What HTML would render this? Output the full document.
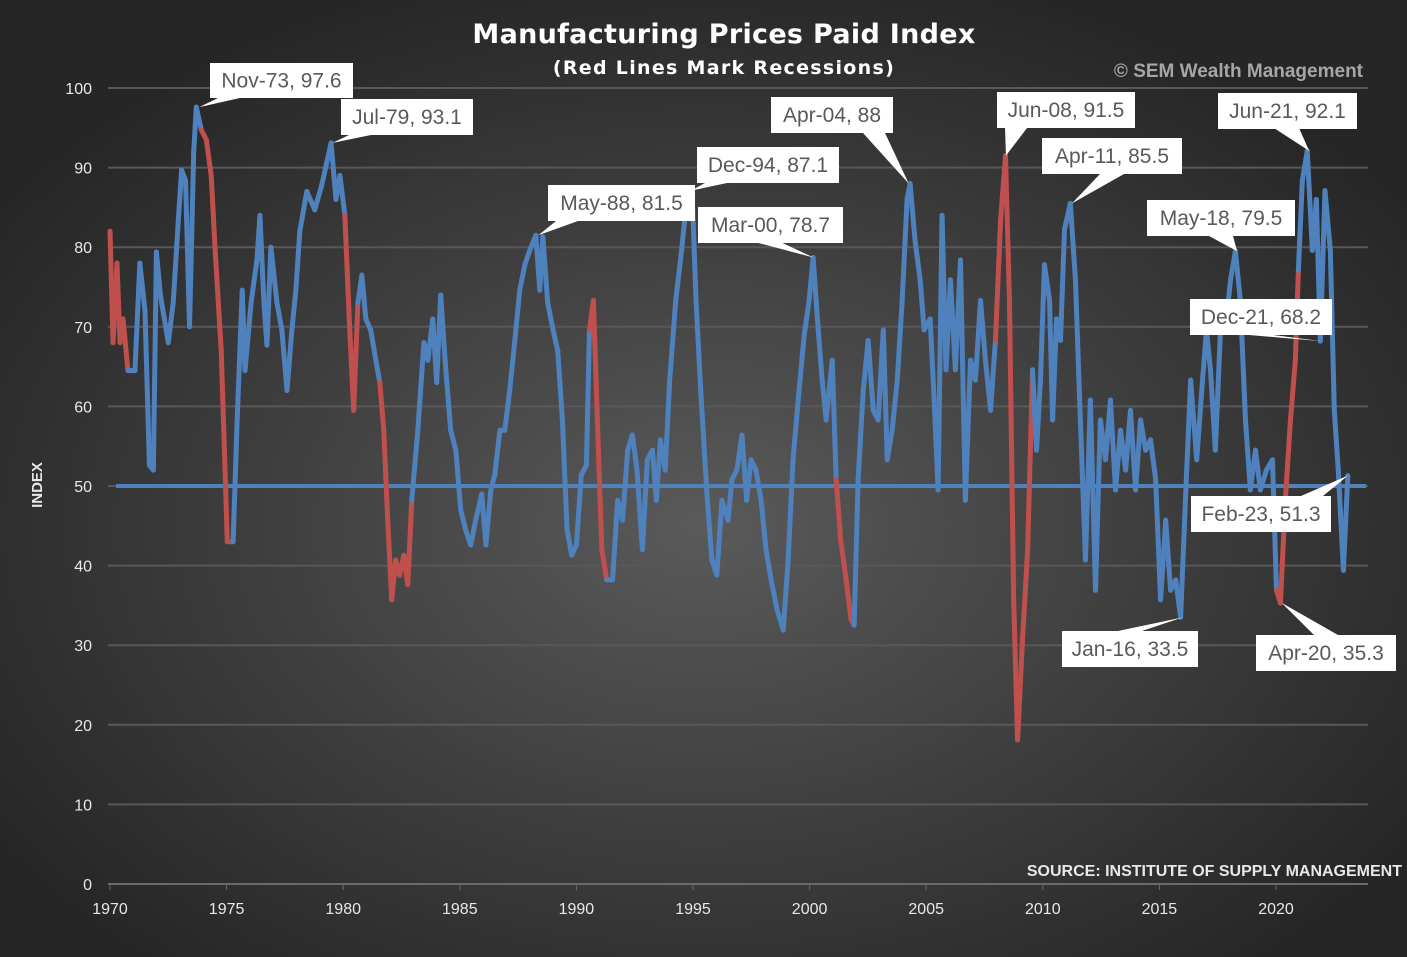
<!DOCTYPE html>
<html><head><meta charset="utf-8">
<style>
html,body{margin:0;padding:0;}
body{width:1407px;height:957px;overflow:hidden;background:radial-gradient(ellipse 60% 60% at 50% 55%,#5a5a5a 0%,#3d3d3d 55%,#262626 100%);font-family:"Liberation Sans","DejaVu Sans",sans-serif;}
svg{position:absolute;left:0;top:0;}
</style></head>
<body>
<svg id="chart" width="1407" height="957"></svg>
<script>
const yearsX = [1970.0,1970.13,1970.3,1970.43,1970.56,1970.77,1971.07,1971.28,1971.5,1971.69,1971.86,1971.99,1972.16,1972.33,1972.5,1972.71,1972.93,1973.07,1973.24,1973.41,1973.59,1973.7,1973.92,1974.13,1974.34,1974.51,1974.77,1975.03,1975.28,1975.45,1975.67,1975.79,1976.05,1976.3,1976.43,1976.6,1976.73,1976.9,1977.16,1977.37,1977.59,1977.8,1977.97,1978.14,1978.44,1978.78,1979.08,1979.48,1979.69,1979.86,1980.07,1980.28,1980.45,1980.63,1980.8,1980.97,1981.18,1981.4,1981.57,1981.74,1981.91,1982.08,1982.25,1982.42,1982.6,1982.77,1982.94,1983.2,1983.46,1983.63,1983.84,1984.01,1984.18,1984.4,1984.61,1984.83,1985.04,1985.25,1985.47,1985.68,1985.94,1986.12,1986.33,1986.5,1986.72,1986.93,1987.14,1987.36,1987.57,1987.79,1988.0,1988.26,1988.43,1988.56,1988.77,1989.0,1989.2,1989.4,1989.6,1989.8,1990.0,1990.21,1990.43,1990.56,1990.73,1990.9,1991.09,1991.3,1991.55,1991.77,1991.98,1992.2,1992.4,1992.6,1992.83,1993.04,1993.26,1993.43,1993.6,1993.81,1994.0,1994.26,1994.51,1994.77,1994.99,1995.13,1995.33,1995.6,1995.81,1996.02,1996.24,1996.5,1996.67,1996.88,1997.1,1997.3,1997.49,1997.7,1997.92,1998.13,1998.35,1998.61,1998.87,1999.08,1999.29,1999.51,1999.77,1999.98,2000.15,2000.37,2000.54,2000.71,2000.97,2001.14,2001.33,2001.57,2001.78,2001.91,2002.08,2002.3,2002.51,2002.73,2002.94,2003.16,2003.33,2003.54,2003.76,2003.97,2004.18,2004.31,2004.52,2004.74,2004.91,2005.17,2005.34,2005.51,2005.68,2005.85,2006.04,2006.25,2006.47,2006.68,2006.9,2007.11,2007.33,2007.54,2007.76,2007.97,2008.19,2008.4,2008.57,2008.75,2008.92,2009.13,2009.35,2009.56,2009.73,2009.9,2010.07,2010.29,2010.42,2010.59,2010.76,2010.93,2011.18,2011.4,2011.61,2011.83,2012.04,2012.26,2012.47,2012.69,2012.9,2013.12,2013.33,2013.55,2013.76,2013.98,2014.19,2014.41,2014.62,2014.84,2015.05,2015.27,2015.48,2015.7,2015.91,2016.17,2016.34,2016.6,2016.85,2017.02,2017.19,2017.4,2017.62,2017.83,2018.05,2018.26,2018.47,2018.69,2018.9,2019.12,2019.33,2019.59,2019.85,2020.02,2020.19,2020.4,2020.62,2020.83,2020.96,2021.13,2021.34,2021.56,2021.73,2021.9,2022.1,2022.33,2022.5,2022.67,2022.89,2023.08];
const values = [82,68,78,68,71,64.5,64.5,78,72,52.6,52,79.4,74,71,68,73,83.4,89.7,88.4,70,92,97.6,94.7,93.5,89,79.6,67,43,43,58,74.6,64.5,73,78.4,84,73,67.7,80,73,69.6,62,69.6,74.6,82,87,84.7,87.8,93.1,86,89,84,69.6,59.5,73,76.5,71,69.6,65.8,63,57,45.7,35.7,40.7,38.8,41.3,37.6,48.2,57,68,65.8,71,63,74,64.6,57,54.5,47,44.5,42.6,45.7,49,42.6,49.5,51.4,57,57,62,68.3,74.6,77.8,79.6,81.5,74.6,81.3,73,69.6,67,58.3,44.5,41.3,42.6,51.4,52.6,69.6,73.3,58.3,42,38.2,38.2,48.2,45.7,54.5,56.4,52,42,53.3,54.5,48.2,55.8,52,63.3,73.3,79.6,87.1,84.7,73.3,62,48.9,40.7,38.8,48.2,45.7,50.8,52,56.4,48.2,53.3,52,48.2,42,38.2,34.4,31.9,40.7,53.3,60.8,69,73.3,78.7,69.6,63.3,58.3,65.8,50.8,43.2,38.2,33.2,32.5,50.8,62,68.3,59.5,58.3,69.6,53.3,57,63.3,73.3,86,88,80.9,75.9,69.6,71,60.8,49.5,84,64.6,75.9,64.6,78.4,48.2,65.8,63.3,73.3,65.8,59.5,68.3,83.4,91.5,73.3,35.7,18.1,30.7,42,64.6,54.5,63.3,77.8,73.3,58.3,71,68.3,82.2,85.5,75.9,58.3,40.7,60.8,36.9,58.3,53.3,60.8,49.5,57,52,59.5,49.5,58.3,54.5,55.8,50.8,35.7,45.7,36.9,38.2,33.5,52,63.3,53.3,63.3,69.6,64.6,54.5,69.6,69.6,75.9,79.5,73.3,58.3,49.5,54.5,49.5,52,53.3,36.9,35.3,48.2,58.3,65.8,77.1,88.4,92.1,79.6,86,68.2,87.1,79.6,59.5,52,39.4,51.3];
const recessions = [[1969.9,1970.85],[1973.83,1975.2],[1980.0,1980.55],[1981.5,1982.9],[1990.5,1991.2],[2001.15,2001.9],[2007.92,2009.5],[2020.1,2020.96]];
const yTicks = [0,10,20,30,40,50,60,70,80,90,100];
const xTicks = [1970,1975,1980,1985,1990,1995,2000,2005,2010,2015,2020];
const calloutLabels = ["Nov-73, 97.6","Jul-79, 93.1","May-88, 81.5","Dec-94, 87.1","Mar-00, 78.7","Apr-04, 88","Jun-08, 91.5","Apr-11, 85.5","Jun-21, 92.1","May-18, 79.5","Dec-21, 68.2","Feb-23, 51.3","Jan-16, 33.5","Apr-20, 35.3"];
const calloutYears = [1973.83,1979.54,1988.37,1994.92,2000.17,2004.25,2008.42,2011.25,2021.42,2018.33,2021.92,2023.08,2016.0,2020.25];
const calloutValues = [97.6,93.1,81.5,87.1,78.7,88,91.5,85.5,92.1,79.5,68.2,51.3,33.5,35.3];
const calloutBoxes = [[210,63,143,35],[341,99,132,36],[548,185,147,36],[697,147,142,36],[698,207,145,36],[771,97,122,36],[997,92,138,36],[1042,138,140,36],[1218,93,139,36],[1147,200,148,36],[1190,299,142,36],[1191,496,140,36],[1062,631,136,36],[1256,635,140,36]];

const NS="http://www.w3.org/2000/svg";
const svg=document.getElementById('chart');
const X=y=>110+(y-1970)*23.32;
const Y=v=>884-v*7.96;
function mk(t,a,p){const e=document.createElementNS(NS,t);for(const k in a)e.setAttribute(k,a[k]);(p||svg).appendChild(e);return e;}

yTicks.forEach(v=>{
  const g=mk('line',{x1:108,x2:1368,y1:Y(v),y2:Y(v),stroke:v===0?'#6a6a6a':'#585858','stroke-width':2});
  
  
  const t=mk('text',{x:92,y:Y(v)+6,'text-anchor':'end',fill:'#e8e8e8','font-size':16});
  t.textContent=v;
  
  
});
xTicks.forEach(yr=>{
  const l=mk('line',{x1:X(yr),x2:X(yr),y1:884,y2:890,stroke:'#6a6a6a','stroke-width':1});
  
  
  const t=mk('text',{x:X(yr),y:914,'text-anchor':'middle',fill:'#e8e8e8','font-size':16});
  t.textContent=yr;
  
  
});
const yt=mk('text',{x:42,y:485,'text-anchor':'middle',fill:'#e8e8e8','font-size':15,'font-weight':'bold',transform:'rotate(-90 42 485)'});
yt.textContent='INDEX';



const fifty=mk('line',{x1:116,x2:1366,y1:Y(50),y2:Y(50),stroke:'#4f81bd','stroke-width':4});



const inRec=t=>recessions.some(r=>t>=r[0]&&t<=r[1]);
for(let i=0;i<yearsX.length-1;i++){
  const mid=(yearsX[i]+yearsX[i+1])/2;
  const s=mk('line',{x1:X(yearsX[i]),y1:Y(values[i]),x2:X(yearsX[i+1]),y2:Y(values[i+1]),stroke:inRec(mid)?'#c0504d':'#4f81bd','stroke-width':5,'stroke-linecap':'round'});
  
  
}

calloutLabels.forEach((lab,i)=>{
  const [bx,by,bw,bh]=calloutBoxes[i];
  const px=X(calloutYears[i]),py=Y(calloutValues[i]);
  const cx=bx+bw/2,cy=by+bh/2;
  let a,b;
  if(Math.abs(py-cy)>bh/2 && Math.abs(px-cx)<bw/2+40){
    const ey=py<cy?by:by+bh; a=[cx-12,ey];b=[cx+12,ey];
    if(px>bx+bw-10){a=[bx+bw-30,ey];b=[bx+bw-8,ey];}
    if(px<bx+10){a=[bx+8,ey];b=[bx+30,ey];}
  } else {
    const ex=px<cx?bx:bx+bw; a=[ex,cy-6];b=[ex,cy+6];
    if(py<by){a=[ex,by+2];b=[ex,by+14];}
    if(py>by+bh){a=[ex,by+bh-14];b=[ex,by+bh-2];}
  }
  const p=mk('polygon',{points:`${a[0]},${a[1]} ${b[0]},${b[1]} ${px},${py}`,fill:'#ffffff'});
  
  
  const r=mk('rect',{x:bx,y:by,width:bw,height:bh,fill:'#ffffff'});
  
  
  const t=mk('text',{x:bx+bw/2,y:by+bh/2+7,'text-anchor':'middle',fill:'#595959','font-size':21});
  t.textContent=lab;
  
  
});

const title=mk('text',{x:724,y:43,'text-anchor':'middle',fill:'#ffffff','font-size':27,'font-weight':'bold','letter-spacing':'0.3','font-family':'"DejaVu Sans",sans-serif'});
title.textContent='Manufacturing Prices Paid Index';


const sub=mk('text',{x:724,y:74,'text-anchor':'middle',fill:'#ffffff','font-size':19,'font-weight':'bold','letter-spacing':'1.3','font-family':'"DejaVu Sans",sans-serif'});
sub.textContent='(Red Lines Mark Recessions)';


const cp=mk('text',{x:1363,y:77,'text-anchor':'end',fill:'#a6a6a6','font-size':19,'font-weight':'bold'});
cp.textContent='© SEM Wealth Management';


const src=mk('text',{x:1402,y:876,'text-anchor':'end',fill:'#e8e8e8','font-size':16,'font-weight':'bold'});
src.textContent='SOURCE:  INSTITUTE OF SUPPLY MANAGEMENT';


</script>
</body></html>
